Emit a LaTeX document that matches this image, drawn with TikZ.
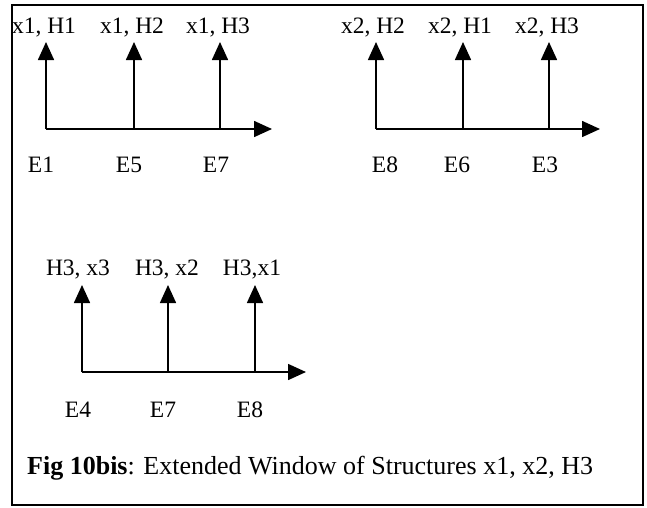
\documentclass[tikz,border=0pt]{standalone}
\usepackage{fontspec}
\setmainfont{Liberation Serif}
\usetikzlibrary{arrows.meta}
\begin{document}
\begin{tikzpicture}[x=1pt,y=-1pt,
  axis/.style={line width=1.6pt,-{Triangle[length=18pt,width=16pt]}},
  lbl/.style={inner sep=0pt,anchor=base,font=\fontsize{23.5}{26}\selectfont},
  caption/.style={inner sep=0pt,anchor=base west,font=\fontsize{26}{30}\selectfont},
  frame/.style={line width=1.3pt}]
\useasboundingbox (0,0) rectangle (647,507);
\draw[frame] (12,5) rectangle (643,505);

% first window: x1
\coordinate (a0) at (46,129);
\coordinate (a1) at (134,129);
\coordinate (a2) at (220,129);
\coordinate (aend) at (272,129);
\coordinate (au0) at (46,42);
\coordinate (au1) at (134,42);
\coordinate (au2) at (220,42);
\draw[axis] (a0) -- (aend);
\draw[axis] (a0) -- (au0);
\draw[axis] (a1) -- (au1);
\draw[axis] (a2) -- (au2);
\node[lbl] (ah0) at (44,33) {x1, H1};
\node[lbl] (ah1) at (132,33) {x1, H2};
\node[lbl] (ah2) at (218,33) {x1, H3};
\node[lbl] (ae0) at (41,172) {E1};
\node[lbl] (ae1) at (129,172) {E5};
\node[lbl] (ae2) at (216,172) {E7};

% second window: x2
\coordinate (b0) at (376,129);
\coordinate (b1) at (463,129);
\coordinate (b2) at (549,129);
\coordinate (bend) at (600,129);
\coordinate (bu0) at (376,42);
\coordinate (bu1) at (463,42);
\coordinate (bu2) at (549,42);
\draw[axis] (b0) -- (bend);
\draw[axis] (b0) -- (bu0);
\draw[axis] (b1) -- (bu1);
\draw[axis] (b2) -- (bu2);
\node[lbl] (bh0) at (373,33) {x2, H2};
\node[lbl] (bh1) at (460,33) {x2, H1};
\node[lbl] (bh2) at (547,33) {x2, H3};
\node[lbl] (be0) at (385,172) {E8};
\node[lbl] (be1) at (457,172) {E6};
\node[lbl] (be2) at (545,172) {E3};

% third window: H3
\coordinate (c0) at (82,372);
\coordinate (c1) at (168,372);
\coordinate (c2) at (255,372);
\coordinate (cend) at (306,372);
\coordinate (cu0) at (82,285);
\coordinate (cu1) at (168,285);
\coordinate (cu2) at (255,285);
\draw[axis] (c0) -- (cend);
\draw[axis] (c0) -- (cu0);
\draw[axis] (c1) -- (cu1);
\draw[axis] (c2) -- (cu2);
\node[lbl] (ch0) at (78,275) {H3, x3};
\node[lbl] (ch1) at (167,275) {H3, x2};
\node[lbl] (ch2) at (252,275) {H3,x1};
\node[lbl] (ce0) at (78,417) {E4};
\node[lbl] (ce1) at (163,417) {E7};
\node[lbl] (ce2) at (250,417) {E8};

% caption
\node[caption] (cap) at (27,474) {\textbf{Fig 10bis}: Extended Window of Structures x1, x2, H3};
\end{tikzpicture}
\end{document}
